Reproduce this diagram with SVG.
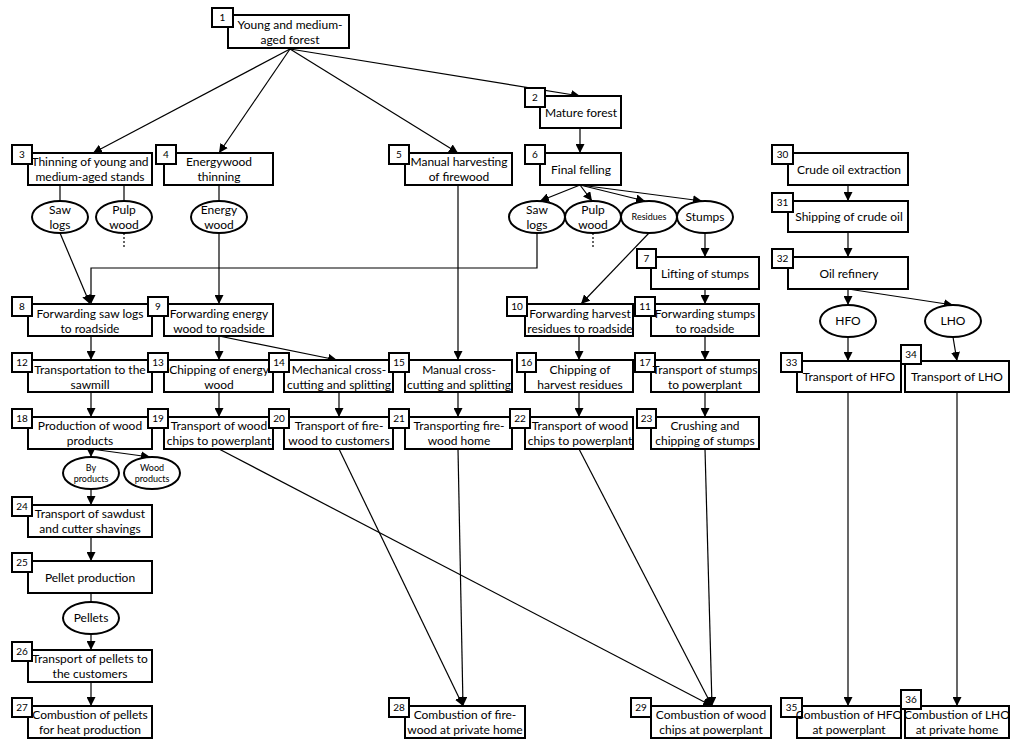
<svg xmlns="http://www.w3.org/2000/svg" width="1024" height="750" viewBox="0 0 1024 750">
<style>
.b{fill:#fff;stroke:#000;stroke-width:2}
.n{fill:#fff;stroke:#000;stroke-width:2}
.e{fill:#fff;stroke:#000;stroke-width:2}
.t{font-family:Lato,"Open Sans",sans-serif;font-size:12px;text-anchor:middle;fill:#000}
.s{font-family:Lato,"Open Sans",sans-serif;font-size:9px;text-anchor:middle;fill:#000}
.nt{font-family:Lato,"Open Sans",sans-serif;font-size:10px;text-anchor:middle;fill:#000}
.c line,.c polyline{stroke:#000;stroke-width:1.2;fill:none}
.c .a{marker-end:url(#ah)}
.c .d{stroke-dasharray:2,2}
</style>
<defs>
<marker id="ah" viewBox="0 0 10 10" refX="10" refY="5" markerWidth="9" markerHeight="9" markerUnits="userSpaceOnUse" orient="auto"><path d="M0,0 L10,5 L0,10 z" fill="#000"/></marker>
</defs>
<rect width="1024" height="750" fill="#fff"/>
<g class="c" id="connectors">
<line class="a" x1="290" y1="49" x2="93" y2="153"/>
<line class="a" x1="290" y1="49" x2="219" y2="153"/>
<line class="a" x1="290" y1="49" x2="458" y2="153"/>
<line class="a" x1="290" y1="49" x2="580" y2="96"/>
<line x1="60" y1="185" x2="60" y2="201"/>
<line x1="124" y1="185" x2="124" y2="201"/>
<line class="d" x1="124" y1="233" x2="124" y2="248"/>
<line class="a" x1="60" y1="233" x2="90" y2="304"/>
<line x1="219" y1="185" x2="219" y2="201"/>
<line class="a" x1="219" y1="233" x2="219" y2="304"/>
<polyline class="a" points="537,233 537,268 91,268 91,304"/>
<line class="a" x1="580" y1="128" x2="580" y2="153"/>
<line class="a" x1="580" y1="185" x2="540" y2="201"/>
<line class="a" x1="580" y1="185" x2="592" y2="201"/>
<line class="a" x1="580" y1="185" x2="645" y2="201"/>
<line class="a" x1="580" y1="185" x2="702" y2="201"/>
<line class="d" x1="593" y1="233" x2="593" y2="248"/>
<line class="a" x1="649" y1="233" x2="581" y2="304"/>
<line class="a" x1="705" y1="233" x2="705" y2="257"/>
<line class="a" x1="705" y1="289" x2="705" y2="304"/>
<line class="a" x1="458" y1="185" x2="458" y2="360"/>
<line class="a" x1="91" y1="336" x2="91" y2="360"/>
<line class="a" x1="219" y1="336" x2="219" y2="360"/>
<line class="a" x1="219" y1="336" x2="337" y2="360"/>
<line class="a" x1="579" y1="336" x2="579" y2="360"/>
<line class="a" x1="705" y1="336" x2="705" y2="360"/>
<line class="a" x1="91" y1="392" x2="91" y2="417"/>
<line class="a" x1="219" y1="392" x2="219" y2="417"/>
<line class="a" x1="339" y1="392" x2="339" y2="417"/>
<line class="a" x1="458" y1="392" x2="458" y2="417"/>
<line class="a" x1="579" y1="392" x2="579" y2="417"/>
<line class="a" x1="705" y1="392" x2="705" y2="417"/>
<line class="a" x1="91" y1="449" x2="91" y2="457"/>
<line class="a" x1="91" y1="449" x2="150" y2="457"/>
<line class="a" x1="91" y1="489" x2="91" y2="505"/>
<line class="a" x1="91" y1="537" x2="91" y2="561"/>
<line x1="91" y1="593" x2="91" y2="602"/>
<line class="a" x1="91" y1="634" x2="91" y2="650"/>
<line class="a" x1="91" y1="682" x2="91" y2="706"/>
<line class="a" x1="219" y1="449" x2="712" y2="706"/>
<line class="a" x1="339" y1="449" x2="463" y2="706"/>
<line class="a" x1="458" y1="449" x2="463" y2="706"/>
<line class="a" x1="579" y1="449" x2="712" y2="706"/>
<line class="a" x1="705" y1="449" x2="712" y2="706"/>
<line class="a" x1="848" y1="185" x2="848" y2="201"/>
<line class="a" x1="848" y1="232" x2="848" y2="257"/>
<line class="a" x1="848" y1="289" x2="848" y2="305"/>
<line class="a" x1="848" y1="289" x2="953" y2="305"/>
<line class="a" x1="848" y1="337" x2="848" y2="361"/>
<line class="a" x1="953" y1="337" x2="957" y2="361"/>
<line class="a" x1="848" y1="392" x2="848" y2="706"/>
<line class="a" x1="957" y1="392" x2="957" y2="706"/>
</g>
<g id="n1"><rect class="b" x="228" y="15" width="121" height="33"/><rect class="n" x="212" y="8" width="21" height="19"/><text class="nt" x="222.5" y="21">1</text><text class="t" x="290" y="29">Young and  medium-</text><text class="t" x="290" y="44">aged forest</text></g>
<g id="n2"><rect class="b" x="540" y="96" width="81" height="32"/><rect class="n" x="525" y="88" width="20" height="19"/><text class="nt" x="535" y="101">2</text><text class="t" x="581" y="117">Mature forest</text></g>
<g id="n3"><rect class="b" x="28" y="153" width="124" height="32"/><rect class="n" x="12" y="145" width="20" height="19"/><text class="nt" x="22" y="158">3</text><text class="t" x="90" y="166">Thinning of young and</text><text class="t" x="90" y="181">medium-aged stands</text></g>
<g id="n4"><rect class="b" x="164" y="153" width="109" height="32"/><rect class="n" x="156" y="145" width="20" height="19"/><text class="nt" x="166" y="158">4</text><text class="t" x="219" y="166">Energywood</text><text class="t" x="219" y="181">thinning</text></g>
<g id="n5"><rect class="b" x="405" y="153" width="107" height="32"/><rect class="n" x="389" y="145" width="20" height="19"/><text class="nt" x="399" y="158">5</text><text class="t" x="459" y="166">Manual harvesting</text><text class="t" x="459" y="181">of firewood</text></g>
<g id="n6"><rect class="b" x="540" y="153" width="81" height="32"/><rect class="n" x="525" y="145" width="20" height="19"/><text class="nt" x="535" y="158">6</text><text class="t" x="581" y="174">Final felling</text></g>
<g id="n30"><rect class="b" x="788" y="153" width="120" height="32"/><rect class="n" x="772" y="145" width="21" height="19"/><text class="nt" x="782.5" y="158">30</text><text class="t" x="849" y="174">Crude oil extraction</text></g>
<g id="n31"><rect class="b" x="788" y="201" width="120" height="31"/><rect class="n" x="772" y="193" width="21" height="19"/><text class="nt" x="782.5" y="206">31</text><text class="t" x="849" y="221">Shipping of crude oil</text></g>
<g id="n32"><rect class="b" x="788" y="257" width="120" height="32"/><rect class="n" x="772" y="249" width="21" height="19"/><text class="nt" x="782.5" y="262">32</text><text class="t" x="849" y="278">Oil refinery</text></g>
<g id="n7"><rect class="b" x="651" y="257" width="108" height="32"/><rect class="n" x="637" y="249" width="19" height="19"/><text class="nt" x="646.5" y="262">7</text><text class="t" x="705" y="278">Lifting of stumps</text></g>
<g id="n8"><rect class="b" x="28" y="304" width="124" height="32"/><rect class="n" x="12" y="297" width="20" height="19"/><text class="nt" x="22" y="310">8</text><text class="t" x="90" y="318">Forwarding saw logs</text><text class="t" x="90" y="333">to  roadside</text></g>
<g id="n9"><rect class="b" x="164" y="304" width="109" height="32"/><rect class="n" x="148" y="297" width="20" height="19"/><text class="nt" x="158" y="310">9</text><text class="t" x="219" y="318">Forwarding energy</text><text class="t" x="219" y="333">wood to roadside</text></g>
<g id="n10"><rect class="b" x="525" y="304" width="108" height="32"/><rect class="n" x="507" y="297" width="20" height="19"/><text class="nt" x="517" y="310">10</text><text class="t" x="580" y="318">Forwarding harvest</text><text class="t" x="580" y="333">residues to roadside</text></g>
<g id="n11"><rect class="b" x="651" y="304" width="108" height="32"/><rect class="n" x="635" y="297" width="20" height="19"/><text class="nt" x="645" y="310">11</text><text class="t" x="705" y="318">Forwarding stumps</text><text class="t" x="705" y="333">to roadside</text></g>
<g id="n12"><rect class="b" x="28" y="360" width="124" height="32"/><rect class="n" x="12" y="353" width="20" height="19"/><text class="nt" x="22" y="366">12</text><text class="t" x="90" y="374">Transportation to the</text><text class="t" x="90" y="389">sawmill</text></g>
<g id="n13"><rect class="b" x="164" y="360" width="109" height="32"/><rect class="n" x="148" y="353" width="20" height="19"/><text class="nt" x="158" y="366">13</text><text class="t" x="219" y="374">Chipping of energy</text><text class="t" x="219" y="389">wood</text></g>
<g id="n14"><rect class="b" x="284" y="360" width="109" height="32"/><rect class="n" x="269" y="353" width="20" height="19"/><text class="nt" x="279" y="366">14</text><text class="t" x="339" y="374">Mechanical cross-</text><text class="t" x="339" y="389">cutting and splitting</text></g>
<g id="n15"><rect class="b" x="405" y="360" width="107" height="32"/><rect class="n" x="389" y="353" width="20" height="19"/><text class="nt" x="399" y="366">15</text><text class="t" x="459" y="374">Manual cross-</text><text class="t" x="459" y="389">cutting and splitting</text></g>
<g id="n16"><rect class="b" x="525" y="360" width="108" height="32"/><rect class="n" x="517" y="353" width="19" height="19"/><text class="nt" x="526.5" y="366">16</text><text class="t" x="580" y="374">Chipping of</text><text class="t" x="580" y="389">harvest residues</text></g>
<g id="n17"><rect class="b" x="651" y="360" width="108" height="32"/><rect class="n" x="635" y="353" width="20" height="19"/><text class="nt" x="645" y="366">17</text><text class="t" x="705" y="374">Transport of stumps</text><text class="t" x="705" y="389">to powerplant</text></g>
<g id="n18"><rect class="b" x="28" y="417" width="124" height="32"/><rect class="n" x="12" y="409" width="20" height="19"/><text class="nt" x="22" y="422">18</text><text class="t" x="90" y="430">Production of wood</text><text class="t" x="90" y="445">products</text></g>
<g id="n19"><rect class="b" x="164" y="417" width="109" height="32"/><rect class="n" x="148" y="409" width="20" height="19"/><text class="nt" x="158" y="422">19</text><text class="t" x="219" y="430">Transport of wood</text><text class="t" x="219" y="445">chips to powerplant</text></g>
<g id="n20"><rect class="b" x="284" y="417" width="109" height="32"/><rect class="n" x="269" y="409" width="20" height="19"/><text class="nt" x="279" y="422">20</text><text class="t" x="339" y="430">Transport of fire-</text><text class="t" x="339" y="445">wood to customers</text></g>
<g id="n21"><rect class="b" x="405" y="417" width="107" height="32"/><rect class="n" x="389" y="409" width="20" height="19"/><text class="nt" x="399" y="422">21</text><text class="t" x="459" y="430">Transporting fire-</text><text class="t" x="459" y="445">wood home</text></g>
<g id="n22"><rect class="b" x="525" y="417" width="108" height="32"/><rect class="n" x="510" y="409" width="20" height="19"/><text class="nt" x="520" y="422">22</text><text class="t" x="580" y="430">Transport of wood</text><text class="t" x="580" y="445">chips to powerplant</text></g>
<g id="n23"><rect class="b" x="651" y="417" width="108" height="32"/><rect class="n" x="637" y="409" width="19" height="19"/><text class="nt" x="646.5" y="422">23</text><text class="t" x="705" y="430">Crushing and</text><text class="t" x="705" y="445">chipping of stumps</text></g>
<g id="n33"><rect class="b" x="797" y="361" width="104" height="31"/><rect class="n" x="781" y="353" width="21" height="19"/><text class="nt" x="791.5" y="366">33</text><text class="t" x="849" y="381">Transport of HFO</text></g>
<g id="n34"><rect class="b" x="905" y="361" width="104" height="31"/><rect class="n" x="901" y="345" width="20" height="19"/><text class="nt" x="911" y="358">34</text><text class="t" x="957" y="381">Transport of LHO</text></g>
<g id="n24"><rect class="b" x="28" y="505" width="124" height="32"/><rect class="n" x="12" y="497" width="20" height="19"/><text class="nt" x="22" y="510">24</text><text class="t" x="90" y="518">Transport of sawdust</text><text class="t" x="90" y="533">and cutter shavings</text></g>
<g id="n25"><rect class="b" x="28" y="561" width="124" height="32"/><rect class="n" x="12" y="553" width="20" height="19"/><text class="nt" x="22" y="566">25</text><text class="t" x="90" y="582">Pellet production</text></g>
<g id="n26"><rect class="b" x="28" y="650" width="124" height="32"/><rect class="n" x="12" y="642" width="20" height="19"/><text class="nt" x="22" y="655">26</text><text class="t" x="90" y="663">Transport of pellets to</text><text class="t" x="90" y="678">the customers</text></g>
<g id="n27"><rect class="b" x="28" y="706" width="124" height="32"/><rect class="n" x="12" y="698" width="20" height="19"/><text class="nt" x="22" y="711">27</text><text class="t" x="90" y="719">Combustion of pellets</text><text class="t" x="90" y="734">for heat production</text></g>
<g id="n28"><rect class="b" x="405" y="706" width="120" height="32"/><rect class="n" x="389" y="698" width="20" height="19"/><text class="nt" x="399" y="711">28</text><text class="t" x="465" y="719">Combustion of fire-</text><text class="t" x="465" y="734">wood at private home</text></g>
<g id="n29"><rect class="b" x="651" y="706" width="120" height="32"/><rect class="n" x="631" y="698" width="20" height="19"/><text class="nt" x="641" y="711">29</text><text class="t" x="711" y="719">Combustion of wood</text><text class="t" x="711" y="734">chips at powerplant</text></g>
<g id="n35"><rect class="b" x="797" y="706" width="104" height="32"/><rect class="n" x="781" y="698" width="21" height="19"/><text class="nt" x="791.5" y="711">35</text><text class="t" x="849" y="719">Combustion of HFO</text><text class="t" x="849" y="734">at powerplant</text></g>
<g id="n36"><rect class="b" x="905" y="706" width="104" height="32"/><rect class="n" x="901" y="690" width="20" height="19"/><text class="nt" x="911" y="703">36</text><text class="t" x="957" y="719">Combustion of LHO</text><text class="t" x="957" y="734">at private home</text></g>
<g id="e-sawlogs1"><ellipse class="e" cx="60" cy="217" rx="28" ry="16"/><text class="t" x="60" y="214">Saw</text><text class="t" x="60" y="229">logs</text></g>
<g id="e-pulp1"><ellipse class="e" cx="124" cy="217" rx="28" ry="16"/><text class="t" x="124" y="214">Pulp</text><text class="t" x="124" y="229">wood</text></g>
<g id="e-energy"><ellipse class="e" cx="219" cy="217" rx="28" ry="16"/><text class="t" x="219" y="214">Energy</text><text class="t" x="219" y="229">wood</text></g>
<g id="e-sawlogs2"><ellipse class="e" cx="537" cy="217" rx="28" ry="16"/><text class="t" x="537" y="214">Saw</text><text class="t" x="537" y="229">logs</text></g>
<g id="e-pulp2"><ellipse class="e" cx="593" cy="217" rx="28" ry="16"/><text class="t" x="593" y="214">Pulp</text><text class="t" x="593" y="229">wood</text></g>
<g id="e-residues"><ellipse class="e" cx="649" cy="217" rx="28" ry="16"/><text class="s" x="649" y="220">Residues</text></g>
<g id="e-stumps"><ellipse class="e" cx="705" cy="217" rx="28" ry="16"/><text class="t" x="705" y="221">Stumps</text></g>
<g id="e-hfo"><ellipse class="e" cx="848" cy="321" rx="28" ry="16"/><text class="t" x="848" y="325">HFO</text></g>
<g id="e-lho"><ellipse class="e" cx="953" cy="321" rx="28" ry="16"/><text class="t" x="953" y="325">LHO</text></g>
<g id="e-byproducts"><ellipse class="e" cx="91" cy="473" rx="28" ry="16"/><text class="s" x="91" y="471">By</text><text class="s" x="91" y="482">products</text></g>
<g id="e-woodproducts"><ellipse class="e" cx="152" cy="473" rx="28" ry="16"/><text class="s" x="152" y="471">Wood</text><text class="s" x="152" y="482">products</text></g>
<g id="e-pellets"><ellipse class="e" cx="91" cy="618" rx="28" ry="16"/><text class="t" x="91" y="622">Pellets</text></g>
</svg>
